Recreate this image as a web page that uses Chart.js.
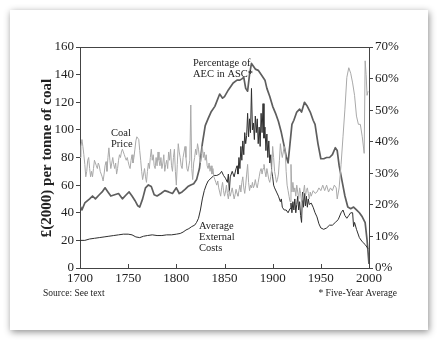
<!DOCTYPE html>
<html>
<head>
<meta charset="utf-8">
<style>
  html, body { margin: 0; padding: 0; background: #fff; }
  #wrap { position: relative; width: 438px; height: 340px; overflow: hidden; }
  #card { position: absolute; left: 10px; top: 10px; width: 418px; height: 320px; background: #fff;
          box-shadow: 1px 2px 7px rgba(0,0,0,0.45); }
  #chart { position: absolute; left: 0; top: 0; }
</style>
</head>
<body>
<div id="wrap">
  <div id="card"></div>
  <canvas id="chart" width="438" height="340"></canvas>
</div>
<script src="https://cdn.jsdelivr.net/npm/chart.js@4/dist/chart.umd.min.js"></script>
<script>
'use strict';

// coal price, £(2000) per tonne
let priceYears = [
  1700,1701,1702,1703,1704,1705,1706,1707,1708,1709,1710,1711,1712,1713,1714,1715,1716,1717,1718,1719,
  1720,1721,1722,1723,1724,1725,1726,1727,1728,1729,1730,1731,1732,1733,1734,1735,1736,1737,1738,1739,
  1740,1741,1742,1743,1744,1745,1746,1747,1748,1749,1750,1751,1752,1753,1754,1755,1756,1757,1758,1759,
  1760,1761,1762,1763,1764,1765,1766,1767,1768,1769,1770,1771,1772,1773,1774,1775,1776,1777,1778,1779,
  1780,1781,1782,1783,1784,1785,1786,1787,1788,1789,1790,1791,1792,1793,1794,1795,1796,1797,1798,1799,
  1800,1801,1802,1803,1804,1805,1806,1807,1808,1809,1810,1811,1812,1813,1814,1815,1816,1817,1818,1819,
  1820,1821,1822,1823,1824,1825,1826,1827,1828,1829,1830,1831,1832,1833,1834,1835,1836,1837,1838,1839,
  1840,1841,1842,1843,1844,1845,1846,1847,1848,1849,1850,1851,1852,1853,1854,1855,1856,1857,1858,1859,
  1860,1861,1862,1863,1864,1865,1866,1867,1868,1869,1870,1871,1872,1873,1874,1875,1876,1877,1878,1879,
  1880,1881,1882,1883,1884,1885,1886,1887,1888,1889,1890,1891,1892,1893,1894,1895,1896,1897,1898,1899,
  1900,1901,1902,1903,1904,1905,1906,1907,1908,1909,1910,1911,1912,1913,1914,1915,1916,1917,1918,1919,
  1920,1921,1922,1923,1924,1925,1926,1927,1928,1929,1930,1931,1932,1933,1934,1935,1936,1937,1938,1939,
  1940,1942,1944,1946,1948,1950,1952,1954,1956,1958,1960,1962,1964,1966,1967,1969,1971,1973,1975,1977,
  1979,1981,1983,1985,1987,1989,1991,1993,1995,1996,1997,1998,1999
];
let priceValues = [
  80,88,93,88,82,75,66,70,78,80,72,66,70,66,72,78,76,74,72,76,
  74,70,68,66,63,68,74,77,70,80,87,78,72,76,80,75,72,76,68,72,
  78,82,80,84,86,84,82,80,78,80,77,74,72,78,82,76,80,86,92,95,
  94,93,85,78,70,64,68,72,66,62,70,76,72,80,86,78,82,74,72,80,
  74,84,78,74,80,72,76,82,70,75,78,72,84,78,86,74,70,80,86,70,
  60,75,90,84,80,74,72,80,84,88,80,72,70,74,78,118,72,64,76,80,
  86,82,90,86,80,76,82,88,80,84,78,82,74,72,76,70,74,68,72,66,
  64,62,60,63,58,55,52,58,62,56,52,55,60,54,50,56,52,55,58,54,
  50,53,57,54,52,56,60,55,62,66,58,54,60,68,75,62,56,60,58,62,
  58,60,64,60,58,62,66,70,72,68,72,75,70,66,72,68,64,62,66,72,
  88,80,70,66,62,64,68,78,90,84,80,84,88,85,70,60,56,52,48,75,
  55,62,55,58,52,60,55,50,58,54,48,50,55,60,52,56,58,54,50,55,
  52,56,54,55,58,56,60,56,60,55,58,56,60,58,50,58,75,95,115,138,
  145,141,134,125,110,104,104,95,83,150,140,125,128
];

// average external costs, £(2000) per tonne
let costYears = [
  1700,1705,1710,1715,1720,1725,1730,1735,1740,1745,1750,1754,1758,1762,1766,1770,1775,1780,1785,1790,
  1795,1800,1804,1807,1810,1813,1816,1819,1821,1823,1825,1827,1829,1831,1833,1836,1839,1842,1845,1847,
  1849,1851,1853,1854,1855,1856,1858,1860,1862,1863,1864,1865,1866,1867,1868,1869,1870,1871,1872,1873,
  1874,1875,1876,1877,1878,1879,1880,1881,1882,1883,1884,1885,1886,1887,1888,1889,1890,1891,1892,1893,
  1894,1895,1896,1897,1898,1899,1900,1901,1902,1904,1906,1908,1909,1910,1912,1914,1916,1918,1919,1920,
  1921,1922,1923,1924,1925,1926,1927,1928,1929,1930,1931,1932,1933,1934,1935,1936,1937,1938,1940,1942,
  1944,1946,1948,1950,1953,1956,1959,1962,1965,1968,1971,1973,1975,1977,1979,1981,1983,1984,1985,1987,
  1990,1993,1996,1999
];
let costValues = [
  20,20,21,21.5,22,22.5,23,23.5,24,24.5,24.5,24,22.5,22,23,23.5,24,23.5,23.5,24,
  24,24.5,25,26,27.5,28.5,30,31,33,36,42,50,56,60,63,65,67,67,68,70,
  67,65,62,68,55,66,70,66,72,74,68,80,72,88,78,92,82,98,90,96,
  112,95,108,98,130,100,105,93,110,98,108,90,102,88,112,98,119,94,102,85,
  97,80,92,76,82,70,66,60,58,55,52,48,50,44,42,42,40,43,47,40,
  48,42,50,40,46,52,42,48,38,33,55,44,54,45,52,44,50,46,47,44,
  40,37,32,29,28,29,31,31,33,35,40,42,38,36,38,40,40,30,33,28,
  22,19,17,14
];

// share of average external costs in average social cost, five-year average, %
let shareYears = [
  1700,1702,1705,1710,1713,1716,1720,1723,1726,1729,1732,1736,1740,1744,1748,1751,1754,1757,1760,1762,
  1765,1768,1771,1774,1777,1780,1784,1788,1792,1796,1800,1803,1806,1809,1812,1815,1818,1821,1824,1827,
  1830,1833,1836,1840,1845,1848,1850,1854,1859,1863,1866,1868,1870,1872,1874,1876,1878,1880,1882,1885,
  1888,1892,1894,1897,1900,1903,1906,1909,1912,1914,1916,1918,1920,1922,1925,1928,1930,1933,1936,1939,
  1942,1944,1947,1950,1953,1956,1959,1962,1965,1967,1969,1972,1975,1978,1981,1984,1987,1990,1993,1996,
  1998,2000
];
let shareValues = [
  19.7,18.4,20.6,21.9,22.8,21.9,23.2,24.1,25.4,24.1,22.8,23.2,23.6,21.9,23.2,24.1,22.8,21.4,19.7,19.3,
  21.9,25.4,26.3,25.8,23.2,22.8,23.6,24.5,24.1,23.6,25.4,23.6,24.1,24.9,25.8,26.3,26.7,28.0,31.5,39.4,
  45.1,47.3,49.4,51.2,55.1,53.8,54.3,56.4,58.6,59.5,59.5,59.9,60.4,56.9,56.0,61.3,64.8,63.9,63.0,62.6,
  61.3,59.5,56.9,54.3,51.2,49.0,46.4,42.9,38.5,35.4,33.3,39.4,45.5,46.8,49.4,50.3,49.4,52.5,51.2,49.4,
  46.8,45.5,39.4,34.6,34.6,35.0,35.0,35.9,38.1,37.2,32.4,27.6,22.8,19.3,18.8,19.3,18.4,17.5,16.2,14.4,
  8.8,1.3
];

let leftTicks = [0, 20, 40, 60, 80, 100, 120, 140, 160];
let rightTicks = [0, 10, 20, 30, 40, 50, 60, 70];
let yearTicks = [1700, 1750, 1800, 1850, 1900, 1950, 2000];

function pairs(xs, ys) {
  return xs.map((x, i) => ({ x: x, y: ys[i] }));
}

const serif = 'Liberation Serif';
const ink = '#222';
const axisColor = '#444';

// frame, inward year ticks and the text around the plot
const extras = {
  id: 'extras',
  afterDraw(chart) {
    const ctx = chart.ctx;
    const a = chart.chartArea;
    const xs = chart.scales.x;
    ctx.save();
    ctx.strokeStyle = axisColor;
    ctx.lineWidth = 1;
    ctx.beginPath();
    ctx.moveTo(a.left, a.top + 0.5);
    ctx.lineTo(a.right, a.top + 0.5);
    yearTicks.forEach(y => {
      const px = Math.round(xs.getPixelForValue(y)) + 0.5;
      ctx.moveTo(px, a.bottom);
      ctx.lineTo(px, a.bottom - 4);
    });
    ctx.stroke();

    ctx.fillStyle = ink;
    ctx.textBaseline = 'middle';

    // axis title
    ctx.save();
    ctx.translate(47, 158);
    ctx.rotate(-Math.PI / 2);
    ctx.textAlign = 'center';
    ctx.font = 'bold 15px ' + serif;
    ctx.fillText('£(2000) per tonne of coal', 0, 0);
    ctx.restore();

    ctx.font = '10.5px ' + serif;
    ctx.textAlign = 'left';
    ctx.fillText('Coal', 111, 133);
    ctx.fillText('Price', 111, 144);
    ctx.fillText('Percentage of', 193, 63);
    ctx.fillText('AEC in ASC*', 193, 74);
    ctx.fillText('Average', 199, 226);
    ctx.fillText('External', 199, 237);
    ctx.fillText('Costs', 199, 248);

    ctx.font = '9.5px ' + serif;
    ctx.fillText('Source: See text', 43, 293);
    ctx.textAlign = 'right';
    ctx.fillText('* Five-Year Average', 397, 293);
    ctx.restore();
  }
};

new Chart(document.getElementById('chart'), {
  type: 'line',
  data: {
    datasets: [
      {
        label: 'Coal Price',
        data: pairs(priceYears, priceValues),
        yAxisID: 'y',
        borderColor: '#a9a9a9',
        borderWidth: 1
      },
      {
        label: 'Average External Costs',
        data: pairs(costYears, costValues),
        yAxisID: 'y',
        borderColor: '#2e2e2e',
        borderWidth: 1
      },
      {
        label: 'Percentage of AEC in ASC',
        data: pairs(shareYears, shareValues),
        yAxisID: 'pct',
        borderColor: '#5e5e5e',
        borderWidth: 1.7
      }
    ]
  },
  options: {
    responsive: false,
    animation: false,
    events: [],
    layout: { padding: { top: 47, left: 0, right: 0, bottom: 0 } },
    elements: {
      point: { radius: 0 },
      line: { tension: 0, borderJoinStyle: 'round' }
    },
    plugins: {
      legend: { display: false },
      tooltip: { enabled: false }
    },
    scales: {
      x: {
        type: 'linear',
        min: 1700,
        max: 2000,
        afterFit: s => { s.height = 72; },
        afterBuildTicks: s => { s.ticks = yearTicks.map(v => ({ value: v })); },
        grid: { display: false, drawTicks: false, tickLength: 0 },
        border: { display: true, color: axisColor, width: 1 },
        ticks: {
          padding: 3,
          maxRotation: 0,
          color: ink,
          font: { family: serif, size: 13 },
          callback: v => String(v)
        }
      },
      y: {
        position: 'left',
        min: 0,
        max: 160,
        afterFit: s => { s.width = 80; },
        afterBuildTicks: s => { s.ticks = leftTicks.map(v => ({ value: v })); },
        grid: { display: true, drawOnChartArea: false, drawTicks: true, tickLength: 4, color: axisColor },
        border: { display: true, color: axisColor, width: 1 },
        ticks: {
          padding: 2,
          color: ink,
          font: { family: serif, size: 13 }
        }
      },
      pct: {
        position: 'right',
        min: 0,
        max: 70,
        afterFit: s => { s.width = 69; },
        afterBuildTicks: s => { s.ticks = rightTicks.map(v => ({ value: v })); },
        grid: { display: true, drawOnChartArea: false, drawTicks: true, tickLength: 4, color: axisColor },
        border: { display: true, color: axisColor, width: 1 },
        ticks: {
          padding: 2,
          color: ink,
          font: { family: serif, size: 13 },
          callback: v => v + '%'
        }
      }
    }
  },
  plugins: [extras]
});
</script>
</body>
</html>
